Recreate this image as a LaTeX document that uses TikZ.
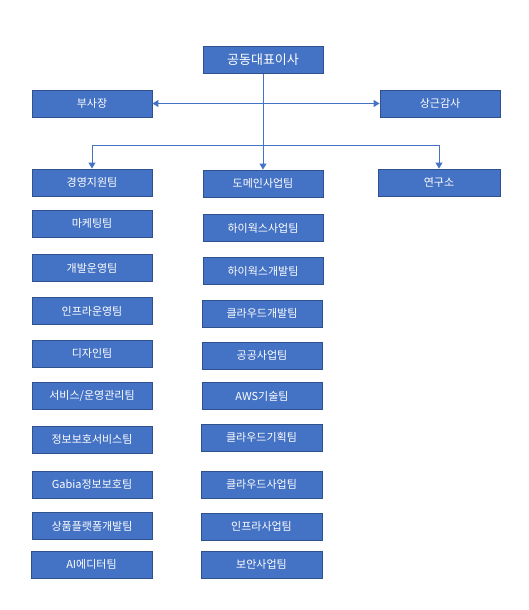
\documentclass[tikz,border=0pt]{standalone}
\usepackage{fontspec}
\setmainfont{Noto Sans CJK KR}
\usetikzlibrary{arrows.meta}
\definecolor{boxfill}{HTML}{4472C4}
\definecolor{boxline}{HTML}{2F528F}
\definecolor{conn}{HTML}{4472C4}
\tikzset{
  box/.style={draw=boxline, fill=boxfill, line width=0.9pt, text=white,
    minimum width=120pt, minimum height=27pt, inner sep=0pt,
    font=\fontsize{11pt}{13pt}\selectfont},
  bigbox/.style={box, font=\fontsize{13pt}{15pt}\selectfont},
  conline/.style={draw=conn, line width=1pt},
  arr/.style={conline, -{Triangle[length=6pt,width=7pt]}},
  darr/.style={conline, {Triangle[length=6pt,width=7pt]}-{Triangle[length=6pt,width=7pt]}}
}
\begin{document}
\begin{tikzpicture}[x=1pt,y=-1pt]
\useasboundingbox (0,0) rectangle (528,610);
% top level
\node[bigbox] (ceo) at (263,60) {공동대표이사};
\node[box] (vp) at (92,103.5) {부사장};
\node[box] (aud) at (440,103.5) {상근감사};
% second level
\node[box] (mgmt) at (92,182.5) {경영지원팀};
\node[box] (dom) at (263,183.5) {도메인사업팀};
\node[box, minimum width=122pt] (lab) at (439,182.5) {연구소};
% left column
\node[box] (l1) at (92,223.5) {마케팅팀};
\node[box] (l2) at (92,268) {개발운영팀};
\node[box] (l3) at (92,311) {인프라운영팀};
\node[box] (l4) at (92,353.5) {디자인팀};
\node[box] (l5) at (92,396) {서비스/운영관리팀};
\node[box] (l6) at (92,439.5) {정보보호서비스팀};
\node[box] (l7) at (92,484.5) {Gabia정보보호팀};
\node[box] (l8) at (92,526) {상품플랫폼개발팀};
\node[box, minimum width=121pt] (l9) at (91.5,564.5) {AI에디터팀};
% right column
\node[box] (r1) at (263,228) {하이웍스사업팀};
\node[box] (r2) at (263,271) {하이웍스개발팀};
\node[box] (r3) at (262,313.5) {클라우드개발팀};
\node[box] (r4) at (262,355.5) {공공사업팀};
\node[box] (r5) at (262,396) {AWS기술팀};
\node[box, minimum width=121pt] (r6) at (261.5,437.5) {클라우드기획팀};
\node[box, minimum width=121pt] (r7) at (261.5,484.5) {클라우드사업팀};
\node[box, minimum width=121pt] (r8) at (261.5,526.5) {인프라사업팀};
\node[box, minimum width=121pt] (r9) at (261.5,564.5) {보안사업팀};
% connectors
\coordinate (j) at (263,145);
\draw[darr] (vp.east) -- (aud.west);
\draw[arr] (ceo.south) -- (dom.north);
\draw[conline] (mgmt.north |- j) -- (lab.north |- j);
\draw[arr] (mgmt.north |- j) -- (mgmt.north);
\draw[arr] (lab.north |- j) -- (lab.north);
\end{tikzpicture}
\end{document}
